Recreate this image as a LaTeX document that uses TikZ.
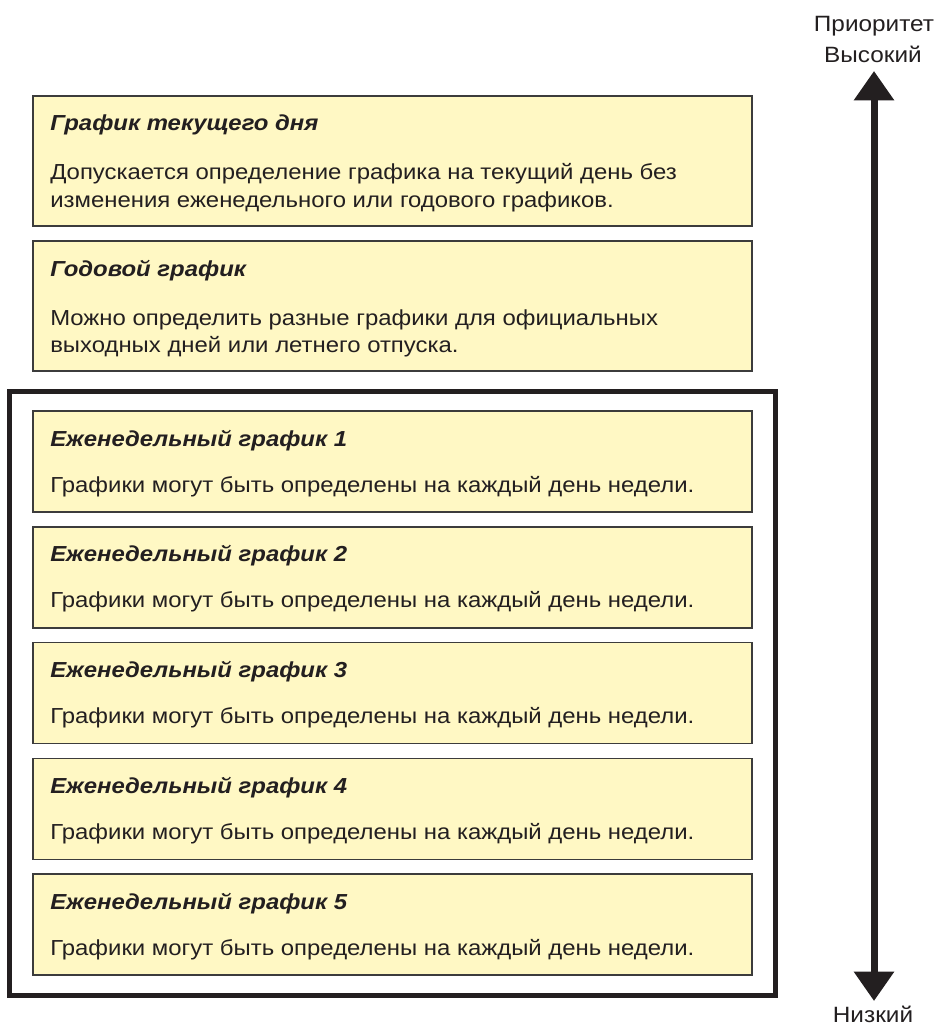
\documentclass[tikz,border=0pt]{standalone}
\usepackage{fontspec}
\setmainfont[FakeStretch=1.10]{Liberation Sans}
\usetikzlibrary{arrows.meta}
\definecolor{boxfill}{RGB}{255,248,196}
\definecolor{boxline}{RGB}{60,60,60}
\definecolor{ink}{RGB}{35,31,32}
\tikzset{
  x=0.75pt, y=-0.75pt,
  sched/.style={draw=boxline, line width=1.3pt, fill=boxfill},
  ttl/.style={anchor=base west, inner sep=0pt, text=ink, font=\fontsize{16.3pt}{19pt}\selectfont\bfseries\itshape},
  txt/.style={anchor=base west, inner sep=0pt, text=ink, font=\fontsize{16.3pt}{19pt}\selectfont},
  lbl/.style={anchor=base, inner sep=0pt, text=ink, font=\fontsize{16.6pt}{19pt}\selectfont},
  frame/.style={draw=ink, line width=3.75pt},
  prio/.style={draw=ink, fill=ink, line width=5.25pt,
    {Triangle[width=29pt,length=22pt]}-{Triangle[width=29pt,length=22pt]}}
}
\begin{document}
\begin{tikzpicture}
\useasboundingbox[fill=white] (0,0) rectangle (936,1027);

% outer frame around weekly schedules
\draw[frame] (9.5,391) rectangle (775.5,995);

% current day
\draw[sched] (33,96) rectangle (752,226);
\node[ttl] (t1) at (50,131) {График текущего дня};
\node[txt] (d1a) at (50,180) {Допускается определение графика на текущий день без};
\node[txt] (d1b) at (50,207) {изменения еженедельного или годового графиков.};

% annual
\draw[sched] (33,241) rectangle (752,371);
\node[ttl] (t2) at (50,276) {Годовой график};
\node[txt] (d2a) at (50,325) {Можно определить разные графики для официальных};
\node[txt] (d2b) at (50,352) {выходных дней или летнего отпуска.};

% weekly
\foreach \i in {1,...,5}{
  \pgfmathsetmacro{\top}{411+115.8*(\i-1)}
  \draw[sched] (33,\top) rectangle (752,\top+101);
  \node[ttl] (w\i) at (50,\top+35) {Еженедельный график \i};
  \node[txt] (wd\i) at (50,\top+81) {Графики могут быть определены на каждый день недели.};
}

% priority arrow
\node[lbl] (pr) at (874,32) {Приоритет};
\node[lbl] (hi) at (873,63) {Высокий};
\node[lbl] (lo) at (873,1022) {Низкий};
\coordinate (atop) at (874,71);
\coordinate (abot) at (874,1001);
\draw[prio] (atop) -- (abot);
\end{tikzpicture}
\end{document}
